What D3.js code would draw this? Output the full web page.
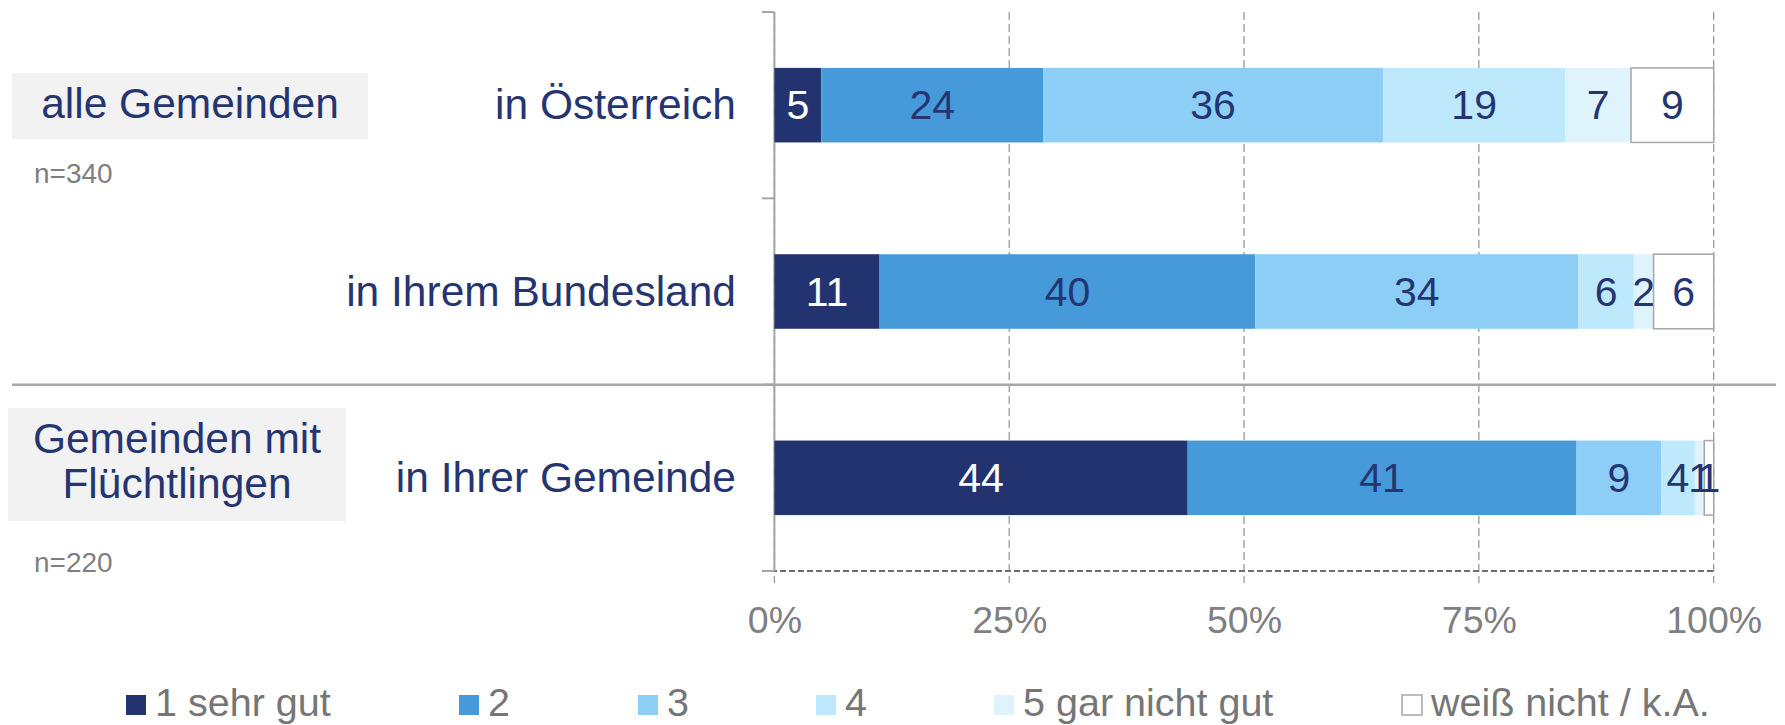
<!DOCTYPE html>
<html>
<head>
<meta charset="utf-8">
<script src="https://cdnjs.cloudflare.com/ajax/libs/d3/7.8.5/d3.min.js"></script>
<style>
html, body { margin: 0; padding: 0; background: #fff; }
svg { display: block; font-family: "Liberation Sans", Arial, sans-serif; }
</style>
</head>
<body>
<svg id="chart" width="1785" height="725"></svg>
<script>
'use strict';

// data
var categories = ['in Österreich', 'in Ihrem Bundesland', 'in Ihrer Gemeinde'];
var seriesNames = ['1 sehr gut', '2', '3', '4', '5 gar nicht gut', 'weiß nicht / k.A.'];
var sehrGut = [5.0, 11.2, 44.0];
var note2 = [23.6, 40.0, 41.4];
var note3 = [36.2, 34.4, 9.0];
var note4 = [19.4, 5.9, 3.6];
var garNichtGut = [7.0, 2.1, 1.0];
var weissNicht = [8.8, 6.4, 1.0];
var tickValues = [0, 25, 50, 75, 100];
var groupLabels = [['alle Gemeinden'], ['Gemeinden mit', 'Flüchtlingen']];
var groupN = ['n=340', 'n=220'];

var colors = ['#23336f', '#469ada', '#8dcef6', '#bee8fb', '#dff3fc', '#ffffff'];
var navy = '#253571';
var grey = '#a6a6a6';

var seriesValues = [sehrGut, note2, note3, note4, garNichtGut, weissNicht];
var rows = categories.map(function (c, i) {
    var r = { cat: c };
    seriesNames.forEach(function (s, j) { r[s] = seriesValues[j][i]; });
    return r;
});

var svg = d3.select('#chart');

var x = d3.scaleLinear().domain([0, 100]).range([774.4, 1713.7]);
var y = d3.scaleBand().domain(categories).range([12, 571])
    .paddingInner(0.6).paddingOuter(0.3);
var step = y.step();
var bw = y.bandwidth();

// gridlines
svg.append('g').selectAll('line')
    .data(tickValues)
    .enter().append('line')
    .attr('x1', function (d) { return x(d); })
    .attr('x2', function (d) { return x(d); })
    .attr('y1', 12).attr('y2', 583)
    .attr('stroke', '#9a9a9a')
    .attr('stroke-width', 1.3)
    .attr('stroke-dasharray', '8,4');

// bottom dashed line
svg.append('line')
    .attr('x1', 762).attr('x2', x(100))
    .attr('y1', 571).attr('y2', 571)
    .attr('stroke', '#707070')
    .attr('stroke-width', 2.2)
    .attr('stroke-dasharray', '6,3');

// separator between groups
svg.append('line')
    .attr('x1', 12).attr('x2', 1776)
    .attr('y1', 12 + 2 * step).attr('y2', 12 + 2 * step)
    .attr('stroke', grey)
    .attr('stroke-width', 2.5);

// left axis
svg.append('line')
    .attr('x1', x(0)).attr('x2', x(0))
    .attr('y1', 12).attr('y2', 571)
    .attr('stroke', grey).attr('stroke-width', 2);
svg.append('g').selectAll('line')
    .data(d3.range(categories.length + 1))
    .enter().append('line')
    .attr('x1', 762).attr('x2', x(0))
    .attr('y1', function (i) { return 12 + i * step; })
    .attr('y2', function (i) { return 12 + i * step; })
    .attr('stroke', grey).attr('stroke-width', 2);

// bars
var stacked = d3.stack().keys(seriesNames)(rows);

var layer = svg.append('g').selectAll('g')
    .data(stacked)
    .enter().append('g')
    .attr('fill', function (d, i) { return colors[i]; });

layer.selectAll('rect')
    .data(function (d) { return d.map(function (p) { p.key = d.key; return p; }); })
    .enter().append('rect')
    .attr('x', function (d) { return x(d[0]); })
    .attr('y', function (d) { return y(d.data.cat); })
    .attr('width', function (d) { return x(d[1]) - x(d[0]); })
    .attr('height', bw)
    .attr('stroke', function (d) { return d.key === seriesNames[5] ? grey : 'none'; })
    .attr('stroke-width', 1.5);

layer.selectAll('text')
    .data(function (d) { return d; })
    .enter().append('text')
    .attr('x', function (d) { return (x(d[0]) + x(d[1])) / 2; })
    .attr('y', function (d) { return y(d.data.cat) + bw / 2 + 14; })
    .attr('text-anchor', 'middle')
    .attr('font-size', 41)
    .attr('fill', function (d) { return d.key === seriesNames[0] ? '#ffffff' : navy; })
    .text(function (d) { return Math.round(d[1] - d[0]); });

// category labels
svg.append('g').selectAll('text')
    .data(categories)
    .enter().append('text')
    .attr('x', 736)
    .attr('y', function (d) { return y(d) + bw / 2 + 14; })
    .attr('text-anchor', 'end')
    .attr('font-size', 42.5)
    .attr('fill', navy)
    .text(function (d) { return d; });

// x axis labels
var xAxis = d3.axisBottom(x)
    .tickValues(tickValues)
    .tickFormat(function (d) { return d + '%'; })
    .tickSize(0)
    .tickPadding(35);
var ax = svg.append('g').attr('transform', 'translate(0,571)').call(xAxis);
ax.select('.domain').remove();
ax.selectAll('text')
    .attr('font-size', 37.5)
    .attr('font-family', '"Liberation Sans", Arial, sans-serif')
    .attr('fill', '#7f7f7f');

// group boxes
var boxes = [
    { x: 12, y: 73, w: 356, h: 66, cx: 190, base: [118] },
    { x: 8, y: 408, w: 338, h: 113, cx: 177, base: [453, 498] }
];
var nBase = [183, 572];
boxes.forEach(function (b, i) {
    svg.append('rect')
        .attr('x', b.x).attr('y', b.y)
        .attr('width', b.w).attr('height', b.h)
        .attr('fill', '#f2f2f2');
    groupLabels[i].forEach(function (t, k) {
        svg.append('text')
            .attr('x', b.cx).attr('y', b.base[k])
            .attr('text-anchor', 'middle')
            .attr('font-size', 42.5)
            .attr('fill', navy)
            .text(t);
    });
    svg.append('text')
        .attr('x', 34).attr('y', nBase[i])
        .attr('font-size', 28)
        .attr('fill', '#7f7f7f')
        .text(groupN[i]);
});

// legend
var legendX = [126, 459, 638, 816, 994, 1402];
var lg = svg.append('g').selectAll('g')
    .data(seriesNames)
    .enter().append('g')
    .attr('transform', function (d, i) { return 'translate(' + legendX[i] + ',695)'; });
lg.append('rect')
    .attr('width', 20).attr('height', 20)
    .attr('fill', function (d, i) { return colors[i]; })
    .attr('stroke', function (d, i) { return i === 5 ? grey : 'none'; })
    .attr('stroke-width', 1.5);
lg.append('text')
    .attr('x', 29).attr('y', 21)
    .attr('font-size', 39.5)
    .attr('fill', '#767676')
    .text(function (d) { return d; });
</script>
</body>
</html>
